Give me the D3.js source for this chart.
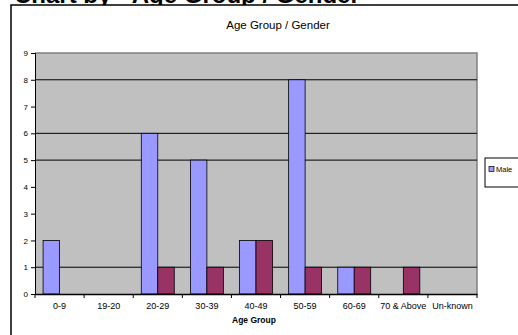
<!DOCTYPE html>
<html>
<head>
<meta charset="utf-8">
<script src="https://cdn.jsdelivr.net/npm/d3@7"></script>
<style>
  html, body { margin: 0; padding: 0; background: #fff; }
  svg { display: block; font-family: "Liberation Sans", Arial, sans-serif; }
</style>
</head>
<body>
<svg id="chart" width="518" height="335"></svg>
<script>
// Age group breakdown by gender
const categories = ["0-9", "19-20", "20-29", "30-39", "40-49", "50-59", "60-69", "70 & Above", "Un-known"];
const maleValues = [2, 0, 6, 5, 2, 8, 1, 0, 0];
const femaleValues = [0, 0, 1, 1, 2, 1, 1, 1, 0];
const yTicks = [0, 1, 2, 3, 4, 5, 6, 7, 8, 9];
const gridValues = [1, 5, 6, 8];
const seriesNames = ["Male", "Female"];
const legendEntries = ["Male"];

const colors = { Male: "#9999ff", Female: "#993366" };

const svg = d3.select("#chart");

// Page heading
svg.append("text")
  .attr("x", 14).attr("y", 3)
  .attr("font-size", 24).attr("font-weight", "bold")
  .text("Chart by - Age Group / Gender");

// Chart frame
svg.append("rect")
  .attr("x", 11).attr("y", 5)
  .attr("width", 700).attr("height", 500)
  .attr("fill", "#fff").attr("stroke", "#000").attr("stroke-width", 1.5);

const plot = { left: 35, top: 53, right: 477, bottom: 294 };

const x = d3.scaleBand().domain(categories).range([plot.left, plot.right]);
const xs = d3.scaleBand().domain(seriesNames).range([0, x.bandwidth()]).paddingInner(0).paddingOuter(0.49);
const y = d3.scaleLinear().domain([0, 9]).range([plot.bottom, plot.top]);

// Plot area
svg.append("rect")
  .attr("x", plot.left).attr("y", plot.top)
  .attr("width", plot.right - plot.left).attr("height", plot.bottom - plot.top)
  .attr("fill", "#c0c0c0");
svg.append("path")
  .attr("d", `M${plot.left},${plot.top}H${plot.right}V${plot.bottom}`)
  .attr("fill", "none").attr("stroke", "#808080").attr("stroke-width", 1.5);

// Gridlines
svg.append("g").selectAll("line").data(gridValues).join("line")
  .attr("x1", plot.left).attr("x2", plot.right)
  .attr("y1", d => y(d)).attr("y2", d => y(d))
  .attr("stroke", "#000").attr("stroke-width", 1);

// Bars
const rows = categories.map((c, i) => ({ cat: c, Male: maleValues[i], Female: femaleValues[i] }));
const groups = svg.append("g").selectAll("g").data(rows).join("g")
  .attr("transform", d => `translate(${x(d.cat)},0)`);
groups.selectAll("rect")
  .data(d => seriesNames.map(s => ({ s, v: d[s] })).filter(e => e.v > 0))
  .join("rect")
  .attr("x", d => xs(d.s)).attr("width", xs.bandwidth())
  .attr("y", d => y(d.v)).attr("height", d => y(0) - y(d.v))
  .attr("fill", d => colors[d.s])
  .attr("stroke", "#000").attr("stroke-width", 0.8);

// Y axis
const yAxis = svg.append("g")
  .attr("transform", `translate(${plot.left},0)`)
  .call(d3.axisLeft(y).tickValues(yTicks).tickSize(4).tickPadding(3).tickFormat(d3.format("d")));
yAxis.select(".domain").attr("stroke", "#000");
yAxis.selectAll("text").attr("font-size", 8).attr("font-family", "Liberation Sans, Arial, sans-serif");

// X axis
const xAxis = svg.append("g")
  .attr("transform", `translate(0,${plot.bottom})`)
  .call(d3.axisBottom(x).tickSize(0).tickPadding(9));
xAxis.select(".domain").attr("stroke", "#000").attr("stroke-width", 1.5);
xAxis.selectAll("text").attr("font-size", 9).attr("font-family", "Liberation Sans, Arial, sans-serif");
// Category separators
svg.append("g").selectAll("line").data(d3.range(categories.length + 1)).join("line")
  .attr("x1", i => plot.left + i * x.step()).attr("x2", i => plot.left + i * x.step())
  .attr("y1", plot.bottom).attr("y2", plot.bottom + 4)
  .attr("stroke", "#000");

// Titles
svg.append("text")
  .attr("x", 278).attr("y", 29)
  .attr("text-anchor", "middle").attr("font-size", 11.5)
  .text("Age Group / Gender");
svg.append("text")
  .attr("x", 254).attr("y", 323)
  .attr("text-anchor", "middle").attr("font-size", 8.5).attr("font-weight", "bold")
  .text("Age Group");

// Legend
const legend = svg.append("g").attr("transform", "translate(485,158)");
legend.append("rect")
  .attr("width", 60).attr("height", 29)
  .attr("fill", "#fff").attr("stroke", "#000").attr("stroke-width", 1);
legend.selectAll("g").data(legendEntries).join("g")
  .attr("transform", (d, i) => `translate(4,${11 + i * 10})`)
  .call(g => {
    g.append("rect").attr("x", 0).attr("y", -2.5).attr("width", 5).attr("height", 5)
      .attr("fill", d => colors[d]).attr("stroke", "#000").attr("stroke-width", 0.7);
    g.append("text").attr("x", 7).attr("y", 2.5)
      .attr("font-size", 7.5).text(d => d);
  });
</script>
</body>
</html>
